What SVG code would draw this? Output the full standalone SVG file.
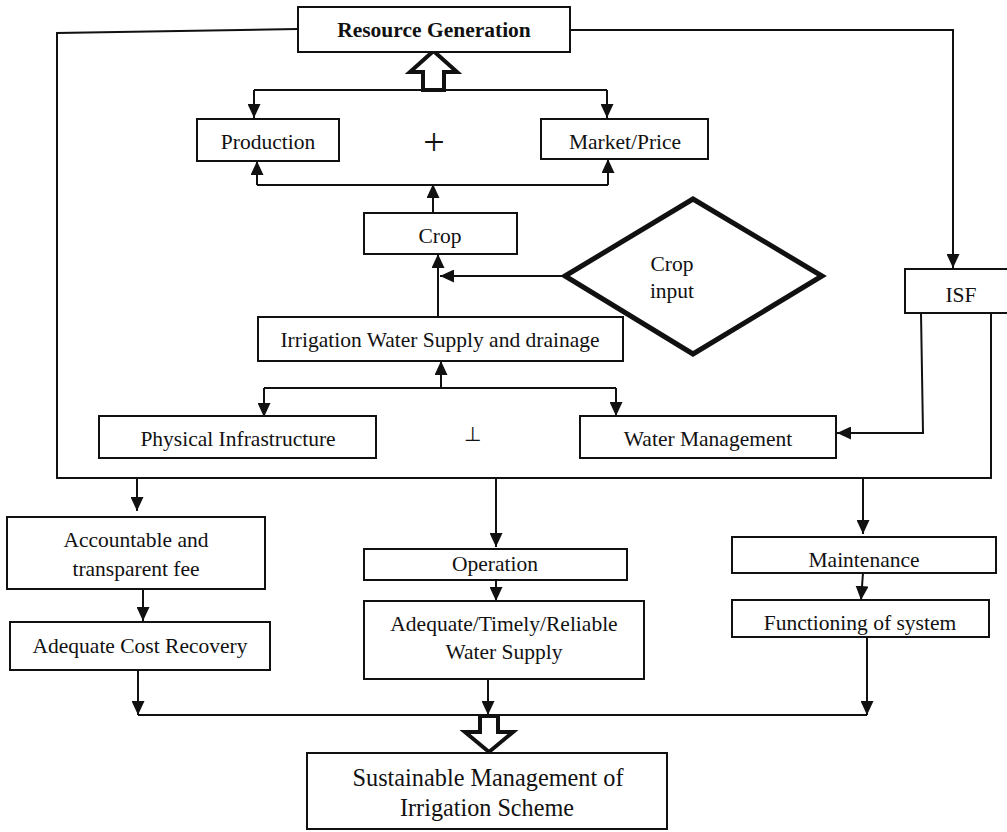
<svg xmlns="http://www.w3.org/2000/svg" width="1007" height="832" viewBox="0 0 1007 832">
<defs>
<style>
.box{fill:#fff;stroke:#111;stroke-width:2}
.ln{fill:none;stroke:#111;stroke-width:2}
.ar{fill:none;stroke:#111;stroke-width:2;marker-end:url(#ah)}
.hol{fill:#fff;stroke:#111;stroke-width:4;stroke-linejoin:miter}
text{font-family:"Liberation Serif","Times New Roman",serif;font-size:21.5px;fill:#111;text-anchor:middle}
.b{font-weight:bold}
</style>
<marker id="ah" markerUnits="userSpaceOnUse" markerWidth="14" markerHeight="13" refX="14" refY="6.5" orient="auto">
<path d="M0,0 L14,6.5 L0,13 z" fill="#111"/>
</marker>
</defs>
<rect width="1007" height="832" fill="#fff"/>

<g id="connectors">
<polyline class="ln" points="298,29 57,33 57,478 991,478 991,313"/>
<polyline class="ar" points="570,30 953,30 953,268"/>
<polyline class="ar" points="921,313 923,433 837,433"/>
<polyline class="ar" points="254,90 254,118"/>
<polyline class="ln" points="254,90 607,90"/>
<polyline class="ar" points="607,90 607,118"/>
<polygon class="hol" points="423,90 444,90 444,72 457,72 433.5,51 410,72 423,72"/>
<polyline class="ar" points="257,185 257,161"/>
<polyline class="ln" points="257,185 608,185"/>
<polyline class="ar" points="608,185 608,159"/>
<polyline class="ar" points="433,213 433,184"/>
<polyline class="ar" points="438,317 438,254"/>
<polyline class="ar" points="565,276 440,276"/>
<polyline class="ar" points="441,388 441,361"/>
<polyline class="ln" points="264,388 616,388"/>
<polyline class="ar" points="264,388 264,417"/>
<polyline class="ar" points="616,388 616,416"/>
<polyline class="ar" points="137,478 137,511"/>
<polyline class="ar" points="143,589 143,621"/>
<polyline class="ar" points="496,478 496,547"/>
<polyline class="ar" points="496,580 496,601"/>
<polyline class="ar" points="863,478 863,534"/>
<polyline class="ar" points="863,573 861,600"/>
<polyline class="ar" points="138,670 138,715"/>
<polyline class="ar" points="488,679 488,715"/>
<polyline class="ar" points="867,637 867,715"/>
<polyline class="ln" points="138,715 867,715"/>
<polygon class="hol" points="480,716 498,716 498,732 513,732 489,752 465,732 480,732"/>
</g>

<g id="resource-generation">
<rect class="box" x="298" y="7" width="272" height="45"/>
<text class="b" x="434" y="37">Resource Generation</text>
</g>
<g id="production">
<rect class="box" x="197" y="119" width="142" height="42"/>
<text x="268" y="149">Production</text>
</g>
<g id="plus-top">
<text x="434" y="155" style="font-size:38px">+</text>
</g>
<g id="market-price">
<rect class="box" x="541" y="119" width="167" height="40"/>
<text x="625" y="149">Market/Price</text>
</g>
<g id="crop">
<rect class="box" x="364" y="213" width="153" height="41"/>
<text x="440" y="243">Crop</text>
</g>
<g id="crop-input">
<polygon points="565,276 693,199 822,276 693,354" fill="#fff" stroke="#111" stroke-width="5" stroke-linejoin="miter"/>
<text x="672" y="271">Crop</text>
<text x="672" y="298">input</text>
</g>
<g id="isf">
<rect class="box" x="905" y="269" width="110" height="44"/>
<text x="961" y="302">ISF</text>
</g>
<g id="irrigation-supply">
<rect class="box" x="258" y="317" width="365" height="44"/>
<text x="440" y="347">Irrigation Water Supply and drainage</text>
</g>
<g id="physical-infrastructure">
<rect class="box" x="99" y="416" width="277" height="42"/>
<text x="238" y="446">Physical Infrastructure</text>
</g>
<g id="plus-mid">
<text x="472" y="441" style="font-size:20px">⊥</text>
</g>
<g id="water-management">
<rect class="box" x="580" y="416" width="256" height="42"/>
<text x="708" y="446">Water Management</text>
</g>
<g id="accountable-fee">
<rect class="box" x="7" y="517" width="258" height="72"/>
<text x="136" y="547">Accountable and</text>
<text x="136" y="576">transparent fee</text>
</g>
<g id="cost-recovery">
<rect class="box" x="10" y="622" width="260" height="48"/>
<text x="140" y="653">Adequate Cost Recovery</text>
</g>
<g id="operation">
<rect class="box" x="364" y="549" width="263" height="31"/>
<text x="495" y="571">Operation</text>
</g>
<g id="water-supply">
<rect class="box" x="364" y="601" width="280" height="78"/>
<text x="504" y="631">Adequate/Timely/Reliable</text>
<text x="504" y="659">Water Supply</text>
</g>
<g id="maintenance">
<rect class="box" x="732" y="537" width="264" height="36"/>
<text x="864" y="567">Maintenance</text>
</g>
<g id="functioning">
<rect class="box" x="732" y="600" width="257" height="37"/>
<text x="860" y="630">Functioning of system</text>
</g>
<g id="sustainable-management">
<rect class="box" x="307" y="753" width="360" height="76"/>
<text x="488" y="786" style="font-size:26px" textLength="271" lengthAdjust="spacingAndGlyphs">Sustainable Management of</text>
<text x="487" y="816" style="font-size:26px" textLength="174" lengthAdjust="spacingAndGlyphs">Irrigation Scheme</text>
</g>
</svg>
